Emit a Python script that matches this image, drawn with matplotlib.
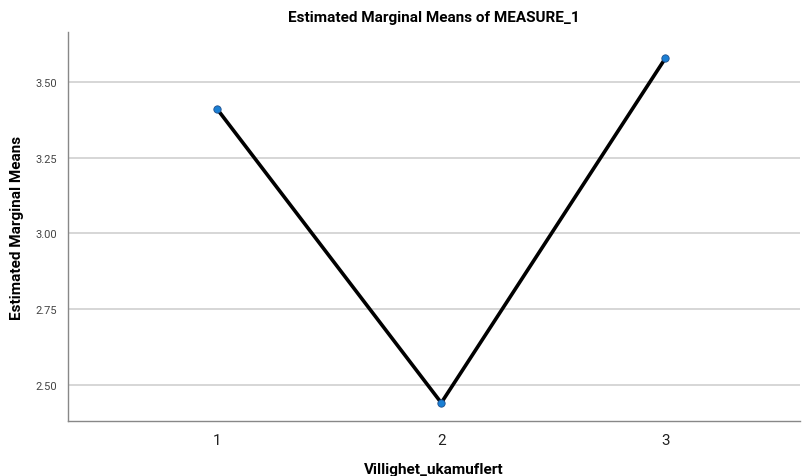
import matplotlib
matplotlib.use("Agg")
import matplotlib.pyplot as plt

categories = ["1", "2", "3"]
means = [3.411, 2.441, 3.579]
yticks = [2.50, 2.75, 3.00, 3.25, 3.50]

plt.rcParams['font.family'] = ['Roboto', 'DejaVu Sans']

fig = plt.figure(figsize=(8.04, 4.77), dpi=100)
ax = fig.add_axes([68/804, 1-422/477, (800-68)/804, (422-33)/477])

x = [1, 2, 3]
ax.plot(x, means, color='black', lw=2.6, zorder=3, solid_capstyle='round')
ax.scatter(x, means, s=28, color='#1a7fd4', edgecolor='#1f4e8a', linewidth=0.6, zorder=4)

ax.set_xlim(0.335, 3.6)
ax.set_ylim(2.381, 3.665)
ax.set_xticks(x)
ax.set_xticklabels(categories, fontsize=11, color='#222222')
ax.set_yticks(yticks)
ax.set_yticklabels([f"{v:.2f}" for v in yticks], fontsize=8, color='#444444')
ax.tick_params(axis='y', length=0, pad=8)
ax.tick_params(axis='x', length=0, pad=9)
ax.yaxis.grid(True, color='#d0d0d0', lw=1.2)
ax.set_axisbelow(True)
for s in ['top', 'right']:
    ax.spines[s].set_visible(False)
for s in ['left', 'bottom']:
    ax.spines[s].set_color('#888888')
    ax.spines[s].set_linewidth(1.0)

ax.set_title("Estimated Marginal Means of MEASURE_1", fontsize=11, fontweight='bold', pad=8)
ax.set_xlabel("Villighet_ukamuflert", fontsize=11, fontweight='bold', labelpad=12)
ax.set_ylabel("Estimated Marginal Means", fontsize=11, fontweight='bold', labelpad=8)
ax.xaxis.set_label_coords(0.5, -0.105)

fig.savefig("out.png", dpi=100, facecolor='white')
